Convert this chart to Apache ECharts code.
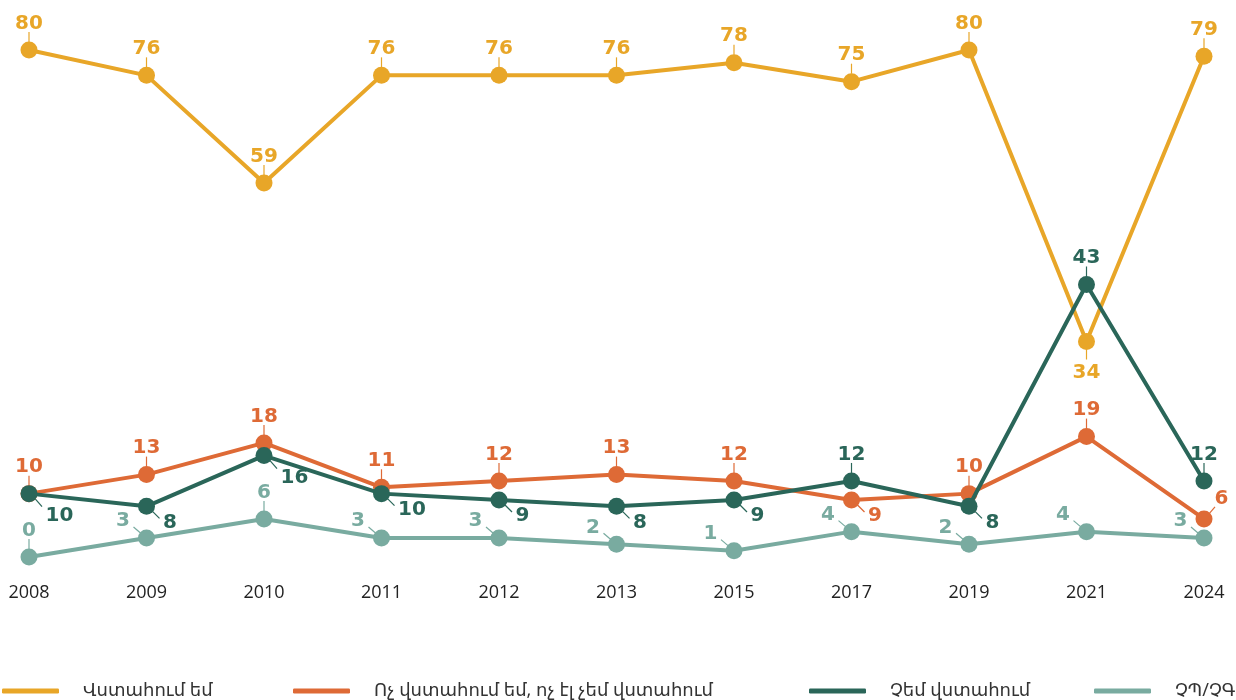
<!DOCTYPE html>
<html>
<head>
<meta charset="utf-8">
<script src="https://cdn.jsdelivr.net/npm/echarts@6/dist/echarts.min.js"></script>
<style>
  html, body { margin: 0; padding: 0; background: #fff; }
  #chart { width: 1236px; height: 700px; }
</style>
</head>
<body>
<div id="chart"></div>
<script>
const years = ['2008', '2009', '2010', '2011', '2012', '2013', '2015', '2017', '2019', '2021', '2024'];

const trust = [80, 76, 59, 76, 76, 76, 78, 75, 80, 34, 79];
const neither = [10, 13, 18, 11, 12, 13, 12, 9, 10, 19, 6];
const distrust = [10, 8, 16, 10, 9, 8, 9, 12, 8, 43, 12];
const dontKnow = [0, 3, 6, 3, 3, 2, 1, 4, 2, 4, 3];

const names = ['Վստահում եմ', 'Ոչ վստահում եմ, ոչ էլ չեմ վստահում', 'Չեմ վստահում', 'ՉՊ/ՉԳ'];
const colors = ['#E8A628', '#DE6A36', '#2A6659', '#79ABA0'];

// where each value label sits: t above, b below, br / br2 below right, tl above left, tr above right
const trustPos    = ['t', 't', 't', 't', 't', 't', 't', 't', 't', 'b', 't'];
const neitherPos  = ['t', 't', 't', 't', 't', 't', 't', 'br', 't', 't', 'tr'];
const distrustPos = ['br2', 'br', 'br2', 'br', 'br', 'br', 'br', 't', 'br', 't', 't'];
const dontKnowPos = ['t', 'tl', 't', 'tl', 'tl', 'tl', 'tl', 'tl', 'tl', 'tl', 'tl'];

const labelFont = '"DejaVu Sans", "Noto Sans", sans-serif';

function labelFor(p) {
  if (p === 't') return { position: 'top', distance: 8 };
  if (p === 'b') return { position: 'bottom', distance: 13 };
  if (p === 'br') return { position: 'right', distance: 8, offset: [0, 16] };
  if (p === 'br2') return { position: 'right', distance: 8, offset: [0, 22] };
  if (p === 'tl') return { position: 'left', distance: 8, offset: [0, -17] };
  return { position: 'right', distance: 2, offset: [0, -20] };
}

// short leader tick between marker and label, in pixels from the marker centre
const tickShape = {
  t: [0, -8, 0, -18],
  b: [0, 8, 0, 18],
  br: [6, 5, 13, 12],
  br2: [6, 5, 13, 13],
  tl: [-6, -5, -13, -11],
  tr: [5, -5, 11, -12]
};

function makeSeries(i, values, pos, z) {
  return {
    name: names[i],
    type: 'line',
    data: values.map((v, k) => ({ value: v, label: labelFor(pos[k]) })),
    symbol: 'circle',
    symbolSize: 17,
    color: colors[i],
    lineStyle: { width: 4, color: colors[i] },
    itemStyle: { color: colors[i] },
    label: {
      show: true,
      color: colors[i],
      fontSize: 20,
      fontWeight: 'bold',
      fontFamily: labelFont
    },
    z: z
  };
}

function makeTicks(i, values, pos) {
  return {
    type: 'custom',
    data: values.map((v, k) => [k, v]),
    silent: true,
    z: 1,
    renderItem: function (params, api) {
      const c = api.coord([api.value(0), api.value(1)]);
      const s = tickShape[pos[params.dataIndex]];
      return {
        type: 'line',
        shape: { x1: c[0] + s[0], y1: c[1] + s[1], x2: c[0] + s[2], y2: c[1] + s[3] },
        style: { stroke: colors[i], lineWidth: 1.2 }
      };
    }
  };
}

const legendLeft = [-3, 288, 804, 1089];

const chart = echarts.init(document.getElementById('chart'));
chart.setOption({
  animation: false,
  grid: { left: 29, right: 32, top: 50, bottom: 143 },
  xAxis: {
    type: 'category',
    data: years,
    boundaryGap: false,
    axisLine: { show: false },
    axisTick: { show: false },
    axisLabel: {
      margin: 27,
      fontSize: 18,
      color: '#222',
      fontFamily: '"Open Sans", "Noto Sans", sans-serif'
    }
  },
  yAxis: {
    type: 'value',
    min: 0,
    max: 80,
    show: false,
    splitLine: { show: false }
  },
  legend: names.map((n, i) => ({
    data: [n],
    left: legendLeft[i],
    top: 677,
    icon: 'roundRect',
    itemWidth: 57,
    itemHeight: 5,
    textStyle: {
      fontSize: 18,
      color: '#333',
      fontFamily: '"Noto Sans", "DejaVu Sans", sans-serif',
      padding: [0, 0, 0, 19]
    }
  })),
  series: [
    makeSeries(0, trust, trustPos, 2),
    makeSeries(1, neither, neitherPos, 3),
    makeSeries(2, distrust, distrustPos, 4),
    makeSeries(3, dontKnow, dontKnowPos, 2),
    makeTicks(0, trust, trustPos),
    makeTicks(1, neither, neitherPos),
    makeTicks(2, distrust, distrustPos),
    makeTicks(3, dontKnow, dontKnowPos)
  ]
});
</script>
</body>
</html>
